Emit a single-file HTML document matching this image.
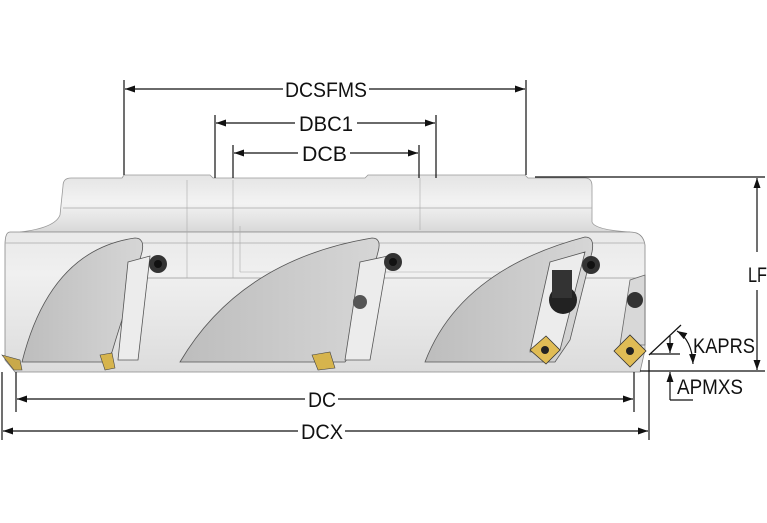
<!DOCTYPE html>
<html><head><meta charset="utf-8"><style>
html,body{margin:0;padding:0;background:#fff;}
svg{display:block;}
text{font-family:"Liberation Sans",sans-serif;font-size:21px;fill:#111;}
</style></head><body>
<svg width="767" height="523" viewBox="0 0 767 523" xmlns="http://www.w3.org/2000/svg">
<defs>
<linearGradient id="top" x1="0" y1="0" x2="0" y2="1">
<stop offset="0" stop-color="#e4e4e4"/><stop offset="0.5" stop-color="#f3f3f3"/><stop offset="1" stop-color="#d8d8d8"/>
</linearGradient>
<linearGradient id="bod" x1="0" y1="0" x2="0" y2="1">
<stop offset="0" stop-color="#e9e9e9"/><stop offset="0.3" stop-color="#f0f0f0"/><stop offset="1" stop-color="#dcdcdc"/>
</linearGradient>
<linearGradient id="flute" x1="0" y1="0" x2="1" y2="0">
<stop offset="0" stop-color="#bdbdbd"/><stop offset="1" stop-color="#d6d6d6"/>
</linearGradient>
<marker id="a" viewBox="0 0 10 10" refX="10" refY="5" markerWidth="10" markerHeight="10" orient="auto-start-reverse" markerUnits="userSpaceOnUse"><path d="M0,1.5 L10,5 L0,8.5z" fill="#111"/></marker>
</defs>
<path d="M63,186 Q63,178 71,178 L122,178 L124,175 L210,175 L213,178 L365,178 L368,175 L525,175 L528,178 L585,178 Q592,178 592,186 L592,222 Q595,230 630,232 L20,232 Q55,228 60,215z" fill="url(#top)" stroke="#999" stroke-width="0.8"/>
<line x1="63" y1="208" x2="592" y2="208" stroke="#aaa" stroke-width="0.8"/>
<path d="M10,232 Q5,232 5,245 L5,360 L15,372 L640,372 L645,350 L645,245 Q643,232 630,232z" fill="url(#bod)" stroke="#888" stroke-width="0.8"/>
<line x1="5" y1="243" x2="645" y2="243" stroke="#aaa" stroke-width="0.7"/>
<line x1="130" y1="278" x2="640" y2="278" stroke="#999" stroke-width="0.7"/>
<line x1="187" y1="180" x2="187" y2="278" stroke="#aaa" stroke-width="0.6"/>
<line x1="233" y1="180" x2="233" y2="278" stroke="#aaa" stroke-width="0.6"/>
<line x1="240" y1="226" x2="240" y2="272" stroke="#aaa" stroke-width="0.6"/>
<line x1="240" y1="272" x2="520" y2="272" stroke="#aaa" stroke-width="0.6"/>
<line x1="420" y1="178" x2="420" y2="230" stroke="#aaa" stroke-width="0.6"/>
<path d="M22,362 Q50,250 135,238 Q145,238 142,252 L128,302 Q120,325 112,352 L105,362z" fill="url(#flute)" stroke="#555" stroke-width="0.8"/>
<path d="M180,362 Q240,260 372,238 Q382,238 378,252 L352,352 L345,362z" fill="url(#flute)" stroke="#555" stroke-width="0.8"/>
<path d="M425,362 Q460,270 585,237 Q595,237 592,252 L570,340 L555,362z" fill="url(#flute)" stroke="#555" stroke-width="0.8"/>
<path d="M128,262 L150,256 L138,360 L118,360z" fill="#ececec" stroke="#555" stroke-width="0.8"/>
<path d="M360,262 L388,256 L370,360 L345,360z" fill="#ececec" stroke="#555" stroke-width="0.8"/>
<path d="M550,262 L585,252 L560,350 L530,352z" fill="#ececec" stroke="#555" stroke-width="0.8"/>
<path d="M630,280 L645,275 L645,345 L620,345z" fill="#d8d8d8" stroke="#666" stroke-width="0.8"/>
<circle cx="158" cy="264" r="9" fill="#333"/><circle cx="158" cy="264" r="4" fill="#111"/>
<circle cx="393" cy="262" r="9" fill="#333"/><circle cx="393" cy="262" r="4" fill="#111"/>
<circle cx="360" cy="302" r="7" fill="#555"/>
<circle cx="591" cy="265" r="9" fill="#333"/><circle cx="591" cy="265" r="4" fill="#111"/>
<circle cx="563" cy="300" r="14" fill="#222"/><rect x="552" y="270" width="20" height="28" fill="#333"/>
<circle cx="635" cy="300" r="8" fill="#333"/>
<path d="M2,355 L20,360 L22,370 L14,370z" fill="#c9a94a" stroke="#444" stroke-width="0.6"/>
<path d="M100,355 L112,353 L115,368 L105,370z" fill="#d6b44d" stroke="#444" stroke-width="0.6"/>
<path d="M312,355 L330,352 L335,368 L318,370z" fill="#d6b44d" stroke="#444" stroke-width="0.6"/>
<path d="M530,350 L546,336 L560,350 L546,364z" fill="#e0bc55" stroke="#333" stroke-width="0.8"/><circle cx="545" cy="350" r="4" fill="#222"/>
<path d="M614,351 L630,335 L646,351 L630,367z" fill="#e0bc55" stroke="#333" stroke-width="0.8"/><circle cx="630" cy="351" r="4" fill="#222"/>
<g stroke="#111" stroke-width="1.2" fill="none">
<line x1="124" y1="80" x2="124" y2="175"/><line x1="526" y1="80" x2="526" y2="175"/>
<line x1="125" y1="89" x2="283" y2="89" marker-start="url(#a)"/><line x1="369" y1="89" x2="525" y2="89" marker-end="url(#a)"/>
<line x1="215" y1="115" x2="215" y2="178"/><line x1="436" y1="115" x2="436" y2="178"/>
<line x1="216" y1="123" x2="295" y2="123" marker-start="url(#a)"/><line x1="357" y1="123" x2="435" y2="123" marker-end="url(#a)"/>
<line x1="233" y1="145" x2="233" y2="178"/><line x1="419" y1="145" x2="419" y2="178"/>
<line x1="234" y1="153" x2="298" y2="153" marker-start="url(#a)"/><line x1="350" y1="153" x2="418" y2="153" marker-end="url(#a)"/>
<line x1="16" y1="372" x2="16" y2="412"/><line x1="634" y1="372" x2="634" y2="412"/>
<line x1="17" y1="399" x2="305" y2="399" marker-start="url(#a)"/><line x1="338" y1="399" x2="633" y2="399" marker-end="url(#a)"/>
<line x1="2" y1="372" x2="2" y2="440"/><line x1="649" y1="360" x2="649" y2="440"/>
<line x1="3" y1="431" x2="298" y2="431" marker-start="url(#a)"/><line x1="345" y1="431" x2="648" y2="431" marker-end="url(#a)"/>
<line x1="535" y1="177" x2="765" y2="177"/><line x1="640" y1="371" x2="765" y2="371"/>
<line x1="757" y1="178" x2="757" y2="252" marker-start="url(#a)"/><line x1="757" y1="290" x2="757" y2="370" marker-end="url(#a)"/>
<line x1="649" y1="355" x2="681" y2="325"/>
<line x1="650" y1="354" x2="680" y2="354"/>
<line x1="670" y1="336" x2="670" y2="353" marker-end="url(#a)"/>
<line x1="670" y1="372" x2="670" y2="400" marker-start="url(#a)"/>
<line x1="670" y1="400" x2="693" y2="400"/>
<path d="M677,331 Q692,340 693,364" marker-start="url(#a)" marker-end="url(#a)"/>
</g>
<text x="285" y="97" textLength="82" lengthAdjust="spacingAndGlyphs">DCSFMS</text>
<text x="299" y="131" textLength="54" lengthAdjust="spacingAndGlyphs">DBC1</text>
<text x="302" y="161" textLength="45" lengthAdjust="spacingAndGlyphs">DCB</text>
<text x="308" y="407" textLength="28" lengthAdjust="spacingAndGlyphs">DC</text>
<text x="301" y="439" textLength="42" lengthAdjust="spacingAndGlyphs">DCX</text>
<text x="748" y="282" textLength="19" lengthAdjust="spacingAndGlyphs">LF</text>
<text x="693" y="353" textLength="62" lengthAdjust="spacingAndGlyphs">KAPRS</text>
<text x="677" y="394" textLength="66" lengthAdjust="spacingAndGlyphs">APMXS</text>
</svg>
</body></html>
